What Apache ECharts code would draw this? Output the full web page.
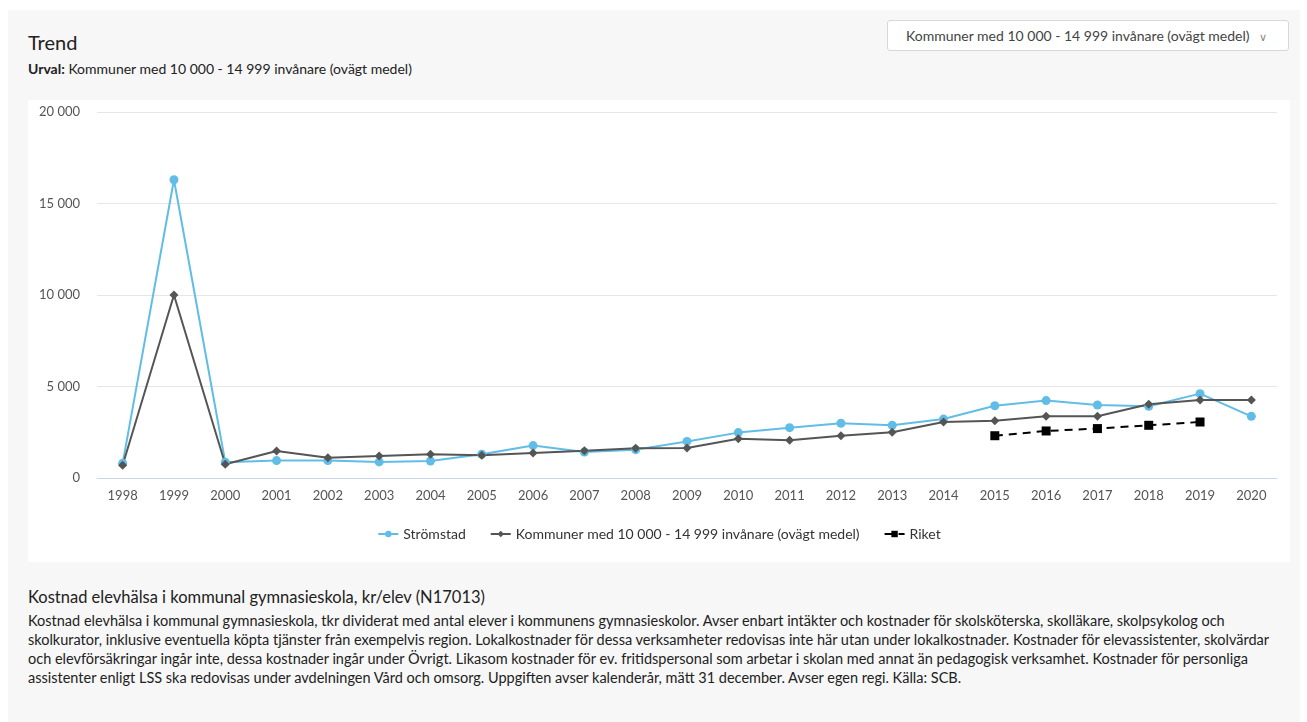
<!DOCTYPE html>
<html><head><meta charset="utf-8">
<script src="https://cdn.jsdelivr.net/npm/echarts@6/dist/echarts.min.js"></script>
<style>
html,body{margin:0;padding:0;background:#fff;font-family:Lato,"Open Sans",sans-serif;}
#panel{position:absolute;left:8px;top:10px;width:1292px;height:712px;background:#f7f7f7;}
#title{position:absolute;left:28px;top:30px;font-size:20px;color:#222;}
#sub{position:absolute;left:28px;top:60px;font-size:14px;color:#222;}
#dd{position:absolute;left:887px;top:20px;width:402px;height:31px;background:#fff;border:1px solid #d8d8d8;border-radius:3px;font-size:14px;color:#444;line-height:30px;box-sizing:border-box;padding-left:18px;}
#chart{position:absolute;left:28px;top:100px;width:1262px;height:462px;background:#fff;}
#h2{position:absolute;left:28px;top:587px;font-size:16.5px;color:#222;}
#desc{position:absolute;left:28px;top:611px;width:1270px;font-size:14.5px;line-height:19px;color:#222;white-space:nowrap;}
</style></head>
<body>
<div id="panel"></div>
<div id="title">Trend</div>
<div id="sub"><b>Urval:</b> Kommuner med 10 000 - 14 999 invånare (ovägt medel)</div>
<div id="dd">Kommuner med 10 000 - 14 999 invånare (ovägt medel) <span style="margin-left:6px;color:#888;font-size:11px;">&#8744;</span></div>
<div id="chart"></div>
<div id="h2">Kostnad elevhälsa i kommunal gymnasieskola, kr/elev (N17013)</div>
<div id="desc">Kostnad elevhälsa i kommunal gymnasieskola, tkr dividerat med antal elever i kommunens gymnasieskolor. Avser enbart intäkter och kostnader för skolsköterska, skolläkare, skolpsykolog och<br>skolkurator, inklusive eventuella köpta tjänster från exempelvis region. Lokalkostnader för dessa verksamheter redovisas inte här utan under lokalkostnader. Kostnader för elevassistenter, skolvärdar<br>och elevförsäkringar ingår inte, dessa kostnader ingår under Övrigt. Likasom kostnader för ev. fritidspersonal som arbetar i skolan med annat än pedagogisk verksamhet. Kostnader för personliga<br>assistenter enligt LSS ska redovisas under avdelningen Vård och omsorg. Uppgiften avser kalenderår, mätt 31 december. Avser egen regi. Källa: SCB.</div>
<script>
const years = ['1998','1999','2000','2001','2002','2003','2004','2005','2006','2007','2008','2009','2010','2011','2012','2013','2014','2015','2016','2017','2018','2019','2020'];
const stromstad = [800,16300,860,950,950,880,930,1300,1770,1420,1550,2000,2480,2750,2990,2880,3220,3950,4230,3990,3920,4610,3370];
const kommuner = [700,10000,750,1480,1110,1200,1300,1240,1370,1490,1620,1640,2150,2060,2310,2500,3060,3130,3370,3370,4030,4260,4260];
const riket = [null,null,null,null,null,null,null,null,null,null,null,null,null,null,null,null,null,2310,2570,2700,2880,3060,null];
const names = ['Strömstad','Kommuner med 10 000 - 14 999 invånare (ovägt medel)','Riket'];

const fmt = v => String(v).replace(/\B(?=(\d{3})+(?!\d))/g, ' ');
const chart = echarts.init(document.getElementById('chart'));
chart.setOption({
  animation:false,
  textStyle:{fontFamily:'Lato, "Open Sans", sans-serif'},
  grid:{left:69,right:13,top:12,bottom:84},
  legend:{bottom:16,itemGap:24,itemWidth:20,itemHeight:8,textStyle:{fontSize:14,color:'#333'},data:names},
  xAxis:{type:'category',data:years,boundaryGap:true,
    axisLine:{lineStyle:{color:'#ccd6eb'}},axisTick:{show:false},
    axisLabel:{color:'#555',fontSize:13,margin:11}},
  yAxis:{type:'value',min:0,max:20000,interval:5000,
    axisLabel:{color:'#555',fontSize:13,margin:17,formatter:fmt},
    splitLine:{lineStyle:{color:'#e6e6e6',width:1}}},
  series:[
    {name:names[0],type:'line',data:stromstad,color:'#62bde6',symbol:'circle',symbolSize:9,lineStyle:{width:2}},
    {name:names[1],type:'line',data:kommuner,color:'#555555',symbol:'diamond',symbolSize:9,lineStyle:{width:2}},
    {name:names[2],type:'line',data:riket,color:'#000000',symbol:'rect',symbolSize:9,lineStyle:{width:2,type:[8,6]}}
  ]
});
</script>
</body></html>
